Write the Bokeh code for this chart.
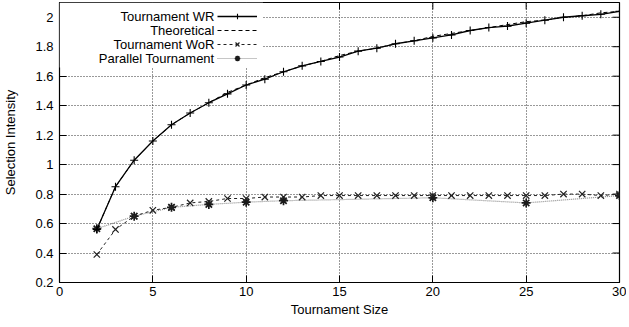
import math
from bokeh.plotting import figure
from bokeh.models import (Range1d, Legend, LegendItem, Label,
                          BoxAnnotation, FixedTicker)
from bokeh.embed import file_html
from bokeh.resources import INLINE

# ---- data ----
sizes = list(range(2, 31))
wr = [0.56, 0.85, 1.03, 1.16, 1.27, 1.35, 1.42, 1.48, 1.54, 1.58, 1.63, 1.67,
      1.70, 1.73, 1.77, 1.79, 1.82, 1.84, 1.86, 1.88, 1.91, 1.93, 1.94, 1.96,
      1.98, 2.00, 2.01, 2.02, 2.04]
theoretical = [0.56, 0.85, 1.03, 1.16, 1.27, 1.35, 1.42, 1.49, 1.54, 1.59,
               1.63, 1.67, 1.70, 1.74, 1.77, 1.79, 1.82, 1.84, 1.87, 1.89,
               1.91, 1.93, 1.95, 1.97, 1.98, 2.00, 2.01, 2.03, 2.04]
wor = [0.39, 0.56, 0.65, 0.69, 0.71, 0.74, 0.75, 0.77, 0.77, 0.78, 0.78, 0.78,
       0.79, 0.79, 0.79, 0.79, 0.79, 0.79, 0.79, 0.79, 0.79, 0.79, 0.79, 0.79,
       0.79, 0.80, 0.80, 0.79, 0.80]
par_sizes = [2, 4, 6, 8, 10, 12, 20, 25, 30]
parallel = [0.565, 0.65, 0.71, 0.73, 0.745, 0.755, 0.775, 0.74, 0.79]

x_ticks = [0, 5, 10, 15, 20, 25, 30]
y_ticks = [0.2, 0.4, 0.6, 0.8, 1.0, 1.2, 1.4, 1.6, 1.8, 2.0]
labels = ["Tournament WR", "Theoretical", "Tournament WoR", "Parallel Tournament"]

FONT = "Liberation Sans"
X0, X1, Y0, Y1 = 0, 30, 0.2, 2.1
FW, FH = 560, 280

p = figure(frame_width=FW, frame_height=FH, output_backend="svg",
           toolbar_location=None,
           x_range=Range1d(X0, X1), y_range=Range1d(Y0, Y1),
           min_border_left=57, min_border_right=7, min_border_top=2,
           min_border_bottom=36)
p.outline_line_color = "black"
p.outline_line_width = 1.2

for ax in (p.xaxis[0], p.yaxis[0]):
    ax.major_tick_in = 7
    ax.major_tick_out = 0
    ax.minor_tick_line_color = None
    ax.axis_line_color = "black"
    ax.major_tick_line_color = "black"
    ax.major_label_text_font = FONT
    ax.major_label_text_font_size = "13px"
    ax.major_label_text_color = "black"
    ax.axis_label_text_font = FONT
    ax.axis_label_text_font_size = "13px"
    ax.axis_label_text_font_style = "normal"
    ax.axis_label_text_color = "black"

p.xaxis.ticker = FixedTicker(ticks=x_ticks)
p.yaxis.ticker = FixedTicker(ticks=y_ticks)
p.yaxis.major_label_overrides = {v: f"{v:g}" for v in y_ticks}
p.xaxis.axis_label = "Tournament Size"
p.yaxis.axis_label = "Selection Intensity"
p.xaxis.major_label_standoff = 4
p.xaxis.axis_label_standoff = 3
p.yaxis.major_label_standoff = 6
p.yaxis.axis_label_standoff = 14

# mirrored inward ticks on top and right edges
p.ray(x=x_ticks, y=[Y1] * len(x_ticks), length=7, length_units="screen",
      angle=-math.pi / 2, line_color="black", line_width=1)
p.ray(x=[X1] * len(y_ticks), y=y_ticks, length=7, length_units="screen",
      angle=math.pi, line_color="black", line_width=1)

p.xgrid.ticker = FixedTicker(ticks=x_ticks)
p.ygrid.ticker = FixedTicker(ticks=y_ticks)
for g in (p.xgrid[0], p.ygrid[0]):
    g.grid_line_color = "#333333"
    g.grid_line_dash = "1 2"
    g.grid_line_width = 1

# ---- series ----
r_par_l = p.line(par_sizes, parallel, line_color="#8c8c8c", line_dash="1 1", line_width=1.2)
r_par_m = p.scatter(par_sizes, parallel, marker="asterisk", size=9, line_color="#1a1a1a", line_width=1.7)
r_wor_l = p.line(sizes, wor, line_color="#222222", line_dash="3 3", line_width=1)
r_wor_m = p.scatter(sizes, wor, marker="x", size=9, line_color="#222222", line_width=1.2)
r_th = p.line(sizes, theoretical, line_color="black", line_dash="4 3", line_width=1)
r_wr_l = p.line(sizes, wr, line_color="black", line_width=1.3)
r_wr_m = p.scatter(sizes, wr, marker="cross", size=8, line_color="black", line_width=1.1)

# ---- legend (text to the left of the samples, gnuplot style) ----
ppu = FH / (Y1 - Y0)          # pixels per y unit
TOP = 7                        # legend offset from frame top, px
box = BoxAnnotation(left=X0, right=10.9, bottom=Y1 - (TOP + 58) / ppu, top=Y1,
                    fill_color="white", fill_alpha=1.0, line_color=None)
p.add_layout(box)

legend = Legend(items=[
    LegendItem(label=" ", renderers=[r_wr_l, r_wr_m]),
    LegendItem(label="  ", renderers=[r_th]),
    LegendItem(label="   ", renderers=[r_wor_l, r_wor_m]),
    LegendItem(label="    ", renderers=[r_par_l, r_par_m]),
], location=(158, FH - TOP - 56), orientation="vertical", glyph_width=40,
   glyph_height=14, label_height=14, label_width=0, label_text_font_size="8px",
   spacing=0, padding=0, margin=0, border_line_color=None,
   background_fill_alpha=0, label_standoff=0)
p.add_layout(legend, "center")

for i, txt in enumerate(labels):
    yy = Y1 - (TOP + 7 + 14 * i) / ppu
    p.add_layout(Label(x=8.3, y=yy, text=txt, text_align="right",
                       text_baseline="middle", text_font=FONT,
                       text_font_size="13px", text_color="black"))

open("out.html", "w").write(file_html(p, INLINE))
